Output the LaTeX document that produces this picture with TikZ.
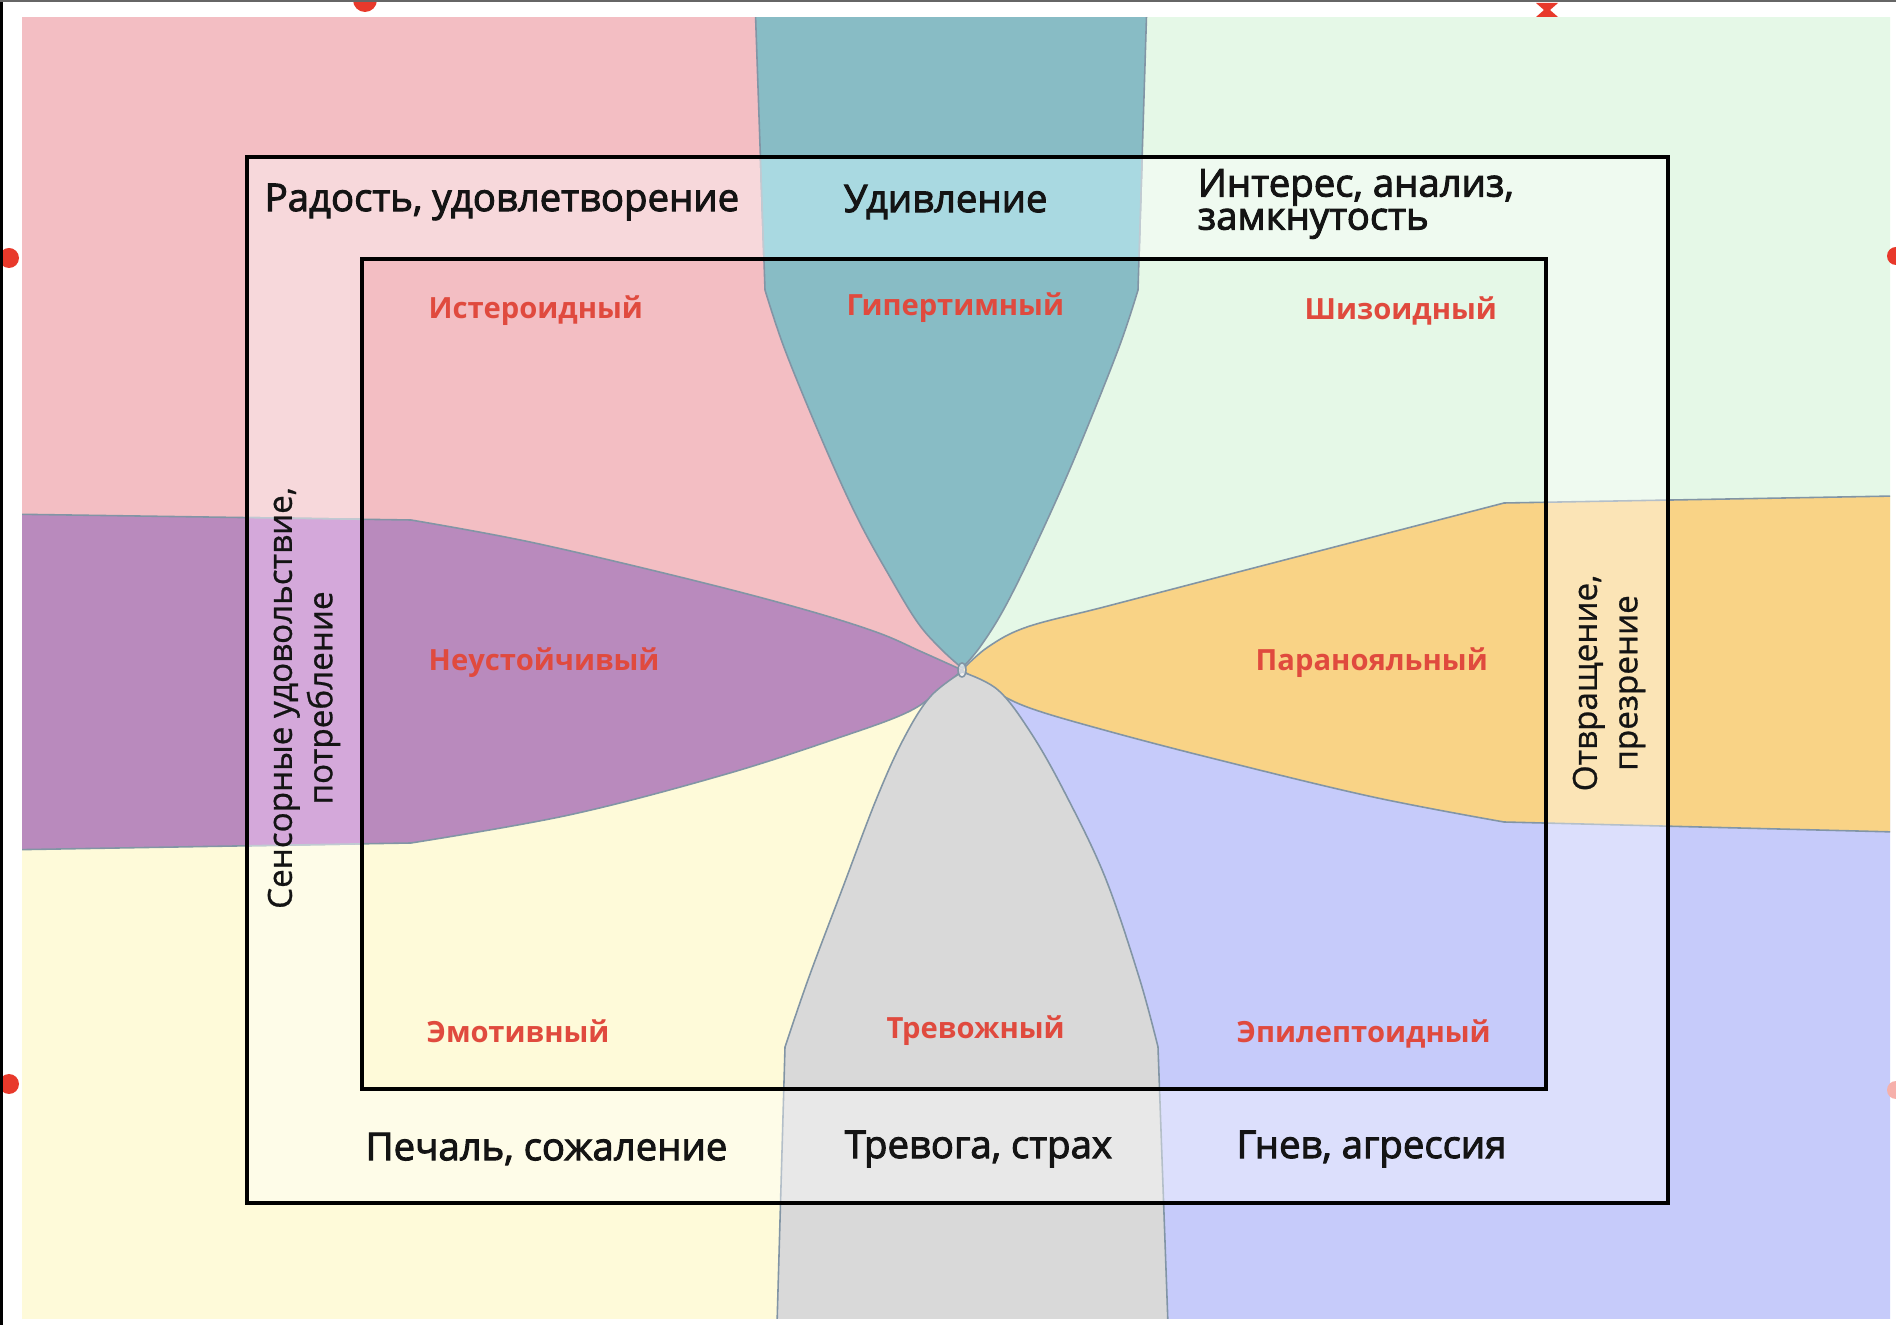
\documentclass[tikz,border=0pt]{standalone}
\usepackage{fontspec}
\setmainfont{Open Sans}
\newfontfamily\semib{Open Sans}[FakeBold=2.5]
\newfontfamily\vertf{Open Sans}[FakeBold=0.8]
\definecolor{pinkc}{HTML}{F3BEC3}
\definecolor{greenc}{HTML}{E5F8E7}
\definecolor{bluec}{HTML}{C6CBFA}
\definecolor{yellowc}{HTML}{FEFAD9}
\definecolor{purplec}{HTML}{B98ABD}
\definecolor{purpleband}{HTML}{D4A8DA}
\definecolor{orangec}{HTML}{F9D386}
\definecolor{tealc}{HTML}{88BCC5}
\definecolor{tealband}{HTML}{A9D9E1}
\definecolor{grayc}{HTML}{D9D9D9}
\definecolor{lobeline}{HTML}{8295A5}
\definecolor{redtxt}{HTML}{E04A3E}
\definecolor{reddot}{HTML}{E8392B}
\definecolor{txt}{HTML}{141414}
\begin{document}
\begin{tikzpicture}[x=0.01cm,y=-0.01cm,
  lobe/.style={draw=lobeline, line width=0.45pt},
  blklbl/.style={font=\semib\fontsize{10.9}{9.4}\selectfont, text=txt, inner sep=0pt, anchor=west},
  redlbl/.style={font=\bfseries\fontsize{8.3}{10}\selectfont, text=redtxt, inner sep=0pt, anchor=west},
  vertlbl/.style={font=\vertf\fontsize{9.45}{11.5}\selectfont, text=txt, rotate=90, align=center, inner sep=0pt},
  frame/.style={draw=black, line width=1.3pt}]
\useasboundingbox (0,0) rectangle (1896,1325);
\fill[white] (0,0) rectangle (1896,1325);

% lobe outlines, saved for reuse
\path[save path=\purplep] (0,514) -- (411,520)
  -- plot[smooth, tension=0.6] coordinates {(411,520) (530,542) (684,578) (799,608) (876,632) (922,652) (962,670)}
  -- plot[smooth, tension=0.6] coordinates {(962,670) (942,688) (908,712) (838,738) (723,775) (569,815) (411,843)}
  -- (0,850) -- cycle;
\path[save path=\orangep] (1896,496) -- (1504,503)
  -- plot[smooth, tension=0.6] coordinates {(1504,503) (1373,537) (1219,577) (1104,607) (1027,627) (988,647) (962,670)}
  -- plot[smooth, tension=0.6] coordinates {(962,670) (988,687) (1027,707) (1104,730) (1219,760) (1373,797) (1504,822)}
  -- (1896,832) -- cycle;
\path[save path=\tealp] (755,0) -- (765,290)
  -- plot[smooth, tension=0.6] coordinates {(765,290) (785,350) (822,440) (857,517) (890,577) (918,623) (942,650) (962,668)}
  -- plot[smooth, tension=0.6] coordinates {(962,668) (980,647) (1005,607) (1038,540) (1075,457) (1118,350) (1138,290)}
  -- (1147,0) -- cycle;
\path[save path=\grayp] (777,1325) -- (785,1047)
  -- plot[smooth, tension=0.6] coordinates {(785,1047) (809,977) (843,887) (876,800) (903,740) (930,697) (962,672)}
  -- plot[smooth, tension=0.6] coordinates {(962,672) (998,690) (1031,733) (1065,793) (1105,877) (1139,977) (1158,1047)}
  -- (1168,1325) -- cycle;

\begin{scope}
\clip (22,18) rectangle (1890,1318);
% quadrants
\fill[pinkc] (0,0) rectangle (962,670);
\fill[greenc] (962,0) rectangle (1896,670);
\fill[bluec] (962,670) rectangle (1896,1325);
\fill[yellowc] (0,670) rectangle (962,1325);
% lobes
\filldraw[lobe, fill=purplec, use path=\purplep];
\filldraw[lobe, fill=orangec, use path=\orangep];
\filldraw[lobe, fill=tealc, use path=\tealp];
\filldraw[lobe, fill=grayc, use path=\grayp];
% centre mark
\filldraw[lobe, fill=white, fill opacity=0.6] (962,670) ellipse (4 and 7);
\end{scope}

% light band between the two frames
\fill[white, fill opacity=0.4, even odd rule] (247,157) rectangle (1668,1203) (362,259) rectangle (1546,1089);
\begin{scope}
\clip (247,157) rectangle (1668,259);
\filldraw[draw=lobeline!50, line width=0.45pt, fill=tealband, use path=\tealp];
\end{scope}
\begin{scope}
\clip (247,259) rectangle (362,1089);
\filldraw[draw=lobeline!50, line width=0.45pt, fill=purpleband, use path=\purplep];
\end{scope}
\draw[frame] (247,157) rectangle (1668,1203);
\draw[frame] (362,259) rectangle (1546,1089);

% outer edge lines and handles
\fill[reddot] (365,0) circle (12);
\fill[reddot] (9,258) circle (10);
\fill[reddot] (9,1084) circle (10);
\fill[reddot] (1896,256) circle (9);
\fill[reddot!40] (1896,1090) circle (9);
\fill[reddot] (1536,3) -- (1558,3) -- (1550,10) -- (1558,17) -- (1536,17) -- (1544,10) -- cycle;
\fill[black] (0,0) rectangle (3,1325);
\fill[black!60] (0,0) rectangle (1896,2);

% emotion labels
\node[blklbl] (joy) at (264,202) {Радость, удовлетворение};
\node[blklbl] (surp) at (843,202) {Удивление};
\node[blklbl, align=left] (inter) at (1197,204) {Интерес, анализ,\\замкнутость};
\node[blklbl] (sad) at (365,1149) {Печаль, сожаление};
\node[blklbl] (fear) at (844,1149) {Тревога, страх};
\node[blklbl] (anger) at (1236,1149) {Гнев, агрессия};
\node[vertlbl] (sens) at (304,698) {Сенсорные удовольствие,\\потребление};
\node[vertlbl] (disg) at (1609,683) {Отвращение,\\презрение};

% types
\node[redlbl] (hyst) at (428,311) {Истероидный};
\node[redlbl] (hyper) at (846,308) {Гипертимный};
\node[redlbl] (schiz) at (1304,311) {Шизоидный};
\node[redlbl] (unst) at (428,663) {Неустойчивый};
\node[redlbl] (para) at (1255,663) {Паранояльный};
\node[redlbl] (emot) at (426,1031) {Эмотивный};
\node[redlbl] (anx) at (886,1031) {Тревожный};
\node[redlbl] (epil) at (1236,1034) {Эпилептоидный};
\end{tikzpicture}
\end{document}
